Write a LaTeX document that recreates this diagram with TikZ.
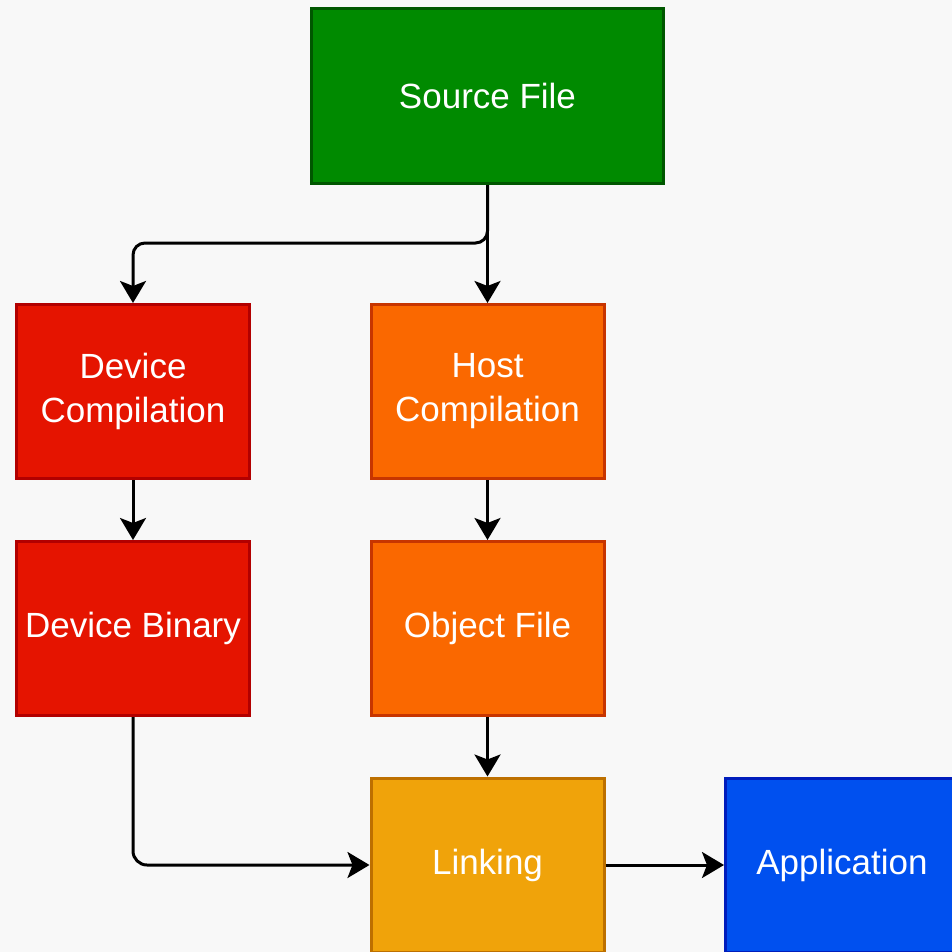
\documentclass[tikz,border=0pt]{standalone}
\usepackage{fontspec}
\setmainfont{Liberation Sans}
\usetikzlibrary{arrows.meta}
\definecolor{bgc}{HTML}{F8F8F8}
\definecolor{grnf}{HTML}{008A00}\definecolor{grnd}{HTML}{005700}
\definecolor{redf}{HTML}{E51400}\definecolor{redd}{HTML}{B20000}
\definecolor{orgf}{HTML}{FA6800}\definecolor{orgd}{HTML}{C73500}
\definecolor{yelf}{HTML}{F0A30A}\definecolor{yeld}{HTML}{BD7000}
\definecolor{bluf}{HTML}{0050EF}\definecolor{blud}{HTML}{001DBC}
\begin{document}
\begin{tikzpicture}[x=1pt, y=-1pt,
    font=\fontsize{35}{44}\selectfont,
    box/.style={rectangle, line width=3pt, text=white, align=center,
      minimum width=233pt, minimum height=174pt, inner sep=0pt},
    srcb/.style={box, fill=grnf, draw=grnd, minimum width=352pt, minimum height=175pt},
    devb/.style={box, fill=redf, draw=redd},
    hstb/.style={box, fill=orgf, draw=orgd},
    lnkb/.style={box, fill=yelf, draw=yeld},
    appb/.style={box, fill=bluf, draw=blud},
    arr/.style={line width=3pt, -{Stealth[length=22pt, width=26pt, inset=5pt]}}]
  \fill[bgc] (0,0) rectangle (952,952);
  \useasboundingbox (0,0) rectangle (952,952);
  \clip (0,0) rectangle (952,952);
  % boxes, centres in pixels of the page
  \node[srcb] (src) at (487.5,96) {Source File};
  \node[devb] (devc) at (133,391.5) {Device\\Compilation};
  \node[hstb] (hostc) at (487.5,391.5) {Host\\Compilation};
  \node[devb] (devbin) at (133,628.5) {Device Binary};
  \node[hstb] (obj) at (487.5,628.5) {Object File};
  \node[lnkb] (link) at (487.5,865) {Linking};
  \node[appb] (app) at (842,865) {Application};
  % connectors
  \draw[arr] (src.south) -- (hostc.north);
  \draw[arr, rounded corners=12pt] (src.south) -- ++(0,58) -| (devc.north);
  \draw[arr] (devc.south) -- (devbin.north);
  \draw[arr] (hostc.south) -- (obj.north);
  \draw[arr] (obj.south) -- (link.north);
  \draw[arr, rounded corners=14pt] (devbin.south) |- (link.west);
  \draw[arr] (link.east) -- (app.west);
\end{tikzpicture}
\end{document}
